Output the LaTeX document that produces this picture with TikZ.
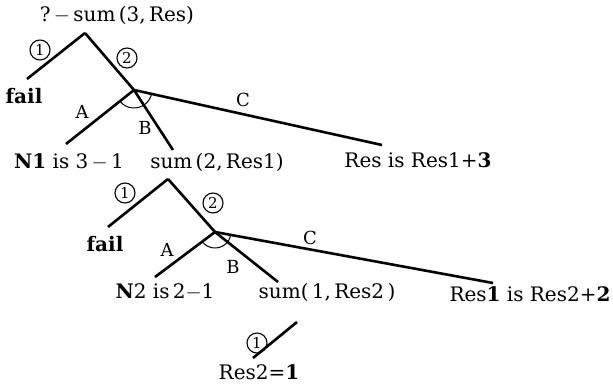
\documentclass[tikz,border=0pt]{standalone}
\usepackage{fontspec}
\setmainfont{DejaVu Serif}
\begin{document}
\begin{tikzpicture}[x=1pt,y=-1pt,
    circnum/.style={circle, draw, line width=1.1pt, minimum size=20pt, inner sep=0pt,
      font=\fontsize{15}{15}\selectfont}]
  \useasboundingbox (0,0) rectangle (613,386);
  % texts of the goals
  \begin{scope}[every node/.style={font=\fontsize{20}{22}\selectfont, inner sep=0pt}]
    \node (goal)  at (117,15)  {?\,$-$\,sum\,(3,\,Res)};
    \node (fail1) at (24,96)   {\textbf{fail}};
    \node (n1)    at (69,162)  {\textbf{N1} is 3\,$-$\,1};
    \node (sum2)  at (217,162) {sum\,(2,\,Res1)};
    \node (res)   at (418,160) {Res is Res1+\textbf{3}};
    \node (fail2) at (105,244) {\textbf{fail}};
    \node (n2)    at (165,292) {\textbf{N}2 is\,2$-$1};
    \node (sum1)  at (327,292) {sum(\,1,\,Res2\,)};
    \node (res1)  at (530,294) {Res\textbf{1} is Res2+\textbf{2}};
    \node (res2)  at (259,372) {Res2=\textbf{1}};
  \end{scope}
  % ends of the branches
  \coordinate (t1) at (85,33);
  \coordinate (j1) at (134,90);
  \coordinate (f1) at (27,79);
  \coordinate (a1) at (66,144);
  \coordinate (b1) at (173,150);
  \coordinate (c1) at (382,145);
  \coordinate (t2) at (168,179);
  \coordinate (j2) at (215,232);
  \coordinate (f2) at (108,227);
  \coordinate (a2) at (155,277);
  \coordinate (b2) at (278,282);
  \coordinate (c2) at (493,283);
  \coordinate (u3) at (297,322);
  \coordinate (d3) at (253,358);
  \begin{scope}[every edge/.style={draw=black, line width=2.6pt}]
    \path (t1) edge (f1);
    \path (t1) edge (j1);
    \path (j1) edge (a1);
    \path (j1) edge (b1);
    \path (j1) edge (c1);
    \path (t2) edge (f2);
    \path (t2) edge (j2);
    \path (j2) edge (a2);
    \path (j2) edge (b2);
    \path (j2) edge (c2);
    \path (u3) edge (d3);
  \end{scope}
  \draw[line width=1pt] (j1) ++(141:18) arc[start angle=141, end angle=13, radius=18];
  \draw[line width=1pt] (j2) ++(143:16) arc[start angle=143, end angle=10, radius=16];
  % labels of the branches
  \node[circnum] (o1) at (40,50)   {1};
  \node[circnum] (o2) at (127,58)  {2};
  \node[circnum] (o3) at (125,193) {1};
  \node[circnum] (o4) at (213,203) {2};
  \node[circnum] (o5) at (257,343) {1};
  \begin{scope}[every node/.style={font=\fontsize{18}{20}\selectfont, inner sep=0pt}]
    \node (la1) at (82,112) {A};
    \node (lb1) at (145,128) {B};
    \node (lc1) at (243,100) {C};
    \node (la2) at (167,250) {A};
    \node (lb2) at (233,267) {B};
    \node (lc2) at (310,238) {C};
  \end{scope}
\end{tikzpicture}
\end{document}
